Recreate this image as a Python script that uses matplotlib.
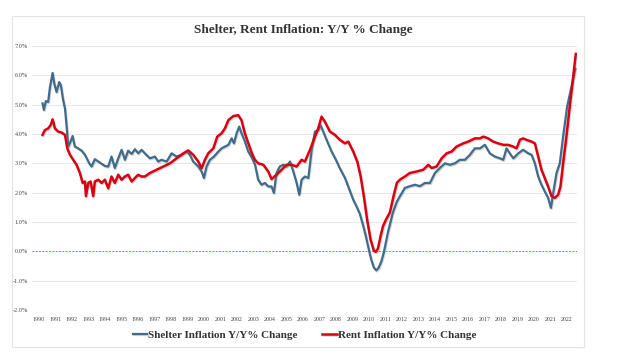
import numpy as np
import matplotlib
matplotlib.use("Agg")
import matplotlib.pyplot as plt
import matplotlib.patheffects as pe
from matplotlib.patches import Rectangle

# ---- data (decimal year, % y/y) ----------------------------------------------
shelter_t = [1990.22, 1990.30, 1990.42, 1990.56, 1990.67, 1990.83, 1990.93, 1991.07, 1991.23, 1991.33,
             1991.47, 1991.58, 1991.68, 1991.78, 1991.92, 1992.04, 1992.18, 1992.38, 1992.59, 1992.79,
             1993.05, 1993.19, 1993.39, 1993.60, 1993.80, 1994.00, 1994.20, 1994.40, 1994.60, 1994.81,
             1995.01, 1995.21, 1995.41, 1995.62, 1995.82, 1996.02, 1996.22, 1996.42, 1996.73, 1997.03,
             1997.23, 1997.43, 1997.74, 1998.04, 1998.34, 1998.65, 1998.95, 1999.15, 1999.35, 1999.66,
             1999.86, 2000.00, 2000.16, 2000.36, 2000.61, 2000.87, 2001.07, 2001.27, 2001.48, 2001.68,
             2001.82, 2001.98, 2002.14, 2002.28, 2002.48, 2002.69, 2002.90, 2003.10, 2003.29, 2003.49,
             2003.70, 2003.90, 2004.10, 2004.24, 2004.40, 2004.60, 2004.81, 2005.01, 2005.22, 2005.42,
             2005.62, 2005.78, 2005.92, 2006.12, 2006.33, 2006.53, 2006.73, 2006.93, 2007.07, 2007.23,
             2007.48, 2007.74, 2008.00, 2008.24, 2008.55, 2008.85, 2009.05, 2009.25, 2009.45, 2009.66,
             2009.80, 2010.00, 2010.15, 2010.30, 2010.45, 2010.60, 2010.75, 2010.90, 2011.15, 2011.45,
             2011.70, 2011.88, 2012.18, 2012.48, 2012.79, 2013.09, 2013.39, 2013.70, 2014.00, 2014.30,
             2014.61, 2014.91, 2015.21, 2015.51, 2015.82, 2016.12, 2016.42, 2016.73, 2017.03, 2017.33,
             2017.63, 2017.94, 2018.14, 2018.34, 2018.54, 2018.75, 2019.05, 2019.35, 2019.66, 2019.86,
             2020.06, 2020.26, 2020.46, 2020.66, 2020.86, 2021.03, 2021.17, 2021.37, 2021.57, 2021.77,
             2022.01, 2022.27, 2022.51]
shelter_v = [5.04, 4.82, 5.12, 5.09, 5.60, 6.08, 5.72, 5.43, 5.77, 5.66,
             5.15, 4.87, 4.25, 3.57, 3.74, 3.93, 3.57, 3.51, 3.43, 3.29,
             3.00, 2.89, 3.14, 3.06, 2.98, 2.91, 2.89, 3.23, 2.84, 3.17,
             3.46, 3.12, 3.43, 3.32, 3.48, 3.34, 3.46, 3.34, 3.17, 3.23,
             3.06, 3.12, 3.06, 3.34, 3.23, 3.29, 3.40, 3.29, 3.06, 2.89,
             2.72, 2.50, 2.89, 3.12, 3.23, 3.40, 3.51, 3.57, 3.63, 3.85,
             3.68, 4.02, 4.25, 4.02, 3.75, 3.40, 3.20, 2.95, 2.44, 2.27,
             2.33, 2.21, 2.21, 1.99, 2.67, 2.89, 2.95, 2.89, 3.06, 2.72,
             2.33, 1.93, 2.44, 2.55, 2.50, 3.46, 4.08, 4.13, 4.30, 4.08,
             3.74, 3.40, 3.12, 2.83, 2.50, 2.05, 1.76, 1.53, 1.28, 0.86,
             0.55, 0.05, -0.30, -0.55, -0.65, -0.55, -0.35, -0.05, 0.64, 1.32,
             1.70, 1.88, 2.16, 2.22, 2.27, 2.22, 2.33, 2.33, 2.67, 2.84,
             3.00, 2.95, 3.00, 3.12, 3.12, 3.29, 3.51, 3.51, 3.63, 3.34,
             3.23, 3.17, 3.12, 3.51, 3.34, 3.17, 3.34, 3.46, 3.34, 3.29,
             3.00, 2.55, 2.27, 2.04, 1.82, 1.48, 1.99, 2.67, 3.00, 3.91,
             4.92, 5.60, 6.22]

rent_t = [1990.22, 1990.36, 1990.56, 1990.71, 1990.83, 1990.97, 1991.17, 1991.37, 1991.58, 1991.72,
          1991.88, 1992.08, 1992.28, 1992.49, 1992.65, 1992.79, 1992.85, 1992.99, 1993.13, 1993.29,
          1993.39, 1993.60, 1993.80, 1994.00, 1994.20, 1994.40, 1994.60, 1994.81, 1995.01, 1995.21,
          1995.41, 1995.62, 1995.82, 1996.02, 1996.22, 1996.42, 1996.73, 1997.13, 1997.54, 1997.94,
          1998.34, 1998.75, 1999.05, 1999.35, 1999.66, 1999.86, 2000.06, 2000.26, 2000.57, 2000.81,
          2001.07, 2001.27, 2001.48, 2001.78, 2002.08, 2002.28, 2002.48, 2002.69, 2002.90, 2003.09,
          2003.29, 2003.60, 2003.90, 2004.10, 2004.40, 2004.71, 2005.01, 2005.32, 2005.62, 2005.92,
          2006.12, 2006.43, 2006.73, 2006.93, 2007.13, 2007.33, 2007.64, 2007.94, 2008.24, 2008.55,
          2008.75, 2009.05, 2009.30, 2009.50, 2009.70, 2009.90, 2010.10, 2010.30, 2010.42, 2010.55,
          2010.70, 2010.85, 2011.05, 2011.27, 2011.50, 2011.70, 2011.90, 2012.18, 2012.48, 2012.89,
          2013.29, 2013.60, 2013.80, 2014.10, 2014.41, 2014.71, 2015.01, 2015.31, 2015.72, 2016.02,
          2016.42, 2016.73, 2016.93, 2017.23, 2017.53, 2017.84, 2018.14, 2018.44, 2018.75, 2018.95,
          2019.15, 2019.35, 2019.55, 2019.86, 2020.06, 2020.26, 2020.46, 2020.66, 2020.86, 2021.07,
          2021.27, 2021.47, 2021.61, 2021.77, 2021.97, 2022.17, 2022.38, 2022.54]
rent_v = [3.97, 4.13, 4.19, 4.30, 4.50, 4.19, 4.08, 4.05, 3.97, 3.51,
          3.29, 3.12, 2.95, 2.66, 2.33, 2.38, 1.88, 2.33, 2.38, 1.88,
          2.38, 2.44, 2.33, 2.44, 2.15, 2.55, 2.33, 2.61, 2.44, 2.55,
          2.61, 2.38, 2.50, 2.61, 2.55, 2.55, 2.67, 2.78, 2.89, 3.00,
          3.17, 3.34, 3.44, 3.29, 3.06, 2.83, 3.12, 3.34, 3.51, 3.91,
          4.02, 4.19, 4.47, 4.61, 4.64, 4.47, 4.02, 3.68, 3.35, 3.12,
          3.00, 2.95, 2.72, 2.46, 2.61, 2.78, 2.95, 2.95, 2.89, 3.12,
          3.06, 3.46, 3.91, 4.19, 4.59, 4.42, 4.08, 3.97, 3.80, 3.68,
          3.74, 3.40, 3.05, 2.55, 1.85, 1.05, 0.40, 0.02, -0.02, 0.10,
          0.50, 0.85, 1.10, 1.32, 1.90, 2.34, 2.45, 2.55, 2.67, 2.72,
          2.78, 2.95, 2.84, 2.89, 3.17, 3.34, 3.40, 3.57, 3.68, 3.74,
          3.85, 3.85, 3.91, 3.85, 3.74, 3.68, 3.63, 3.63, 3.57, 3.51,
          3.80, 3.85, 3.80, 3.74, 3.68, 3.23, 2.78, 2.50, 2.21, 1.88,
          1.82, 1.93, 2.21, 3.00, 3.91, 4.92, 5.94, 6.73]

years = list(range(1990, 2023))
y_ticks = [7, 6, 5, 4, 3, 2, 1, 0, -1, -2]

plt.rcParams["font.family"] = ["Liberation Serif", "DejaVu Serif"]

fig = plt.figure(figsize=(6.41, 3.55), dpi=100)
# light grey frame around the whole chart
fig.patches.append(Rectangle((0.0187, 0.0225), 0.892, 0.9325, transform=fig.transFigure,
                             fill=False, edgecolor="#e4e4e4", linewidth=0.8))

ax = fig.add_axes([0.0499, 0.1268, 0.8502, 0.7437])
shadow = [pe.SimpleLineShadow(offset=(0.6, -0.8), shadow_color="#888888", alpha=0.35), pe.Normal()]
ax.plot(shelter_t, shelter_v, color="#3f6b8c", lw=1.6, label="Shelter Inflation Y/Y% Change",
        path_effects=shadow, zorder=3)
ax.plot(rent_t, rent_v, color="#d90012", lw=1.8, label="Rent Inflation Y/Y% Change",
        path_effects=shadow, zorder=4)
ax.axhline(0, color="#c8602f", lw=0.6, ls=(0, (2, 2)), zorder=2)

ax.set_xlim(1989.58, 2022.61)
ax.set_ylim(-2, 7)
ax.set_yticks(y_ticks)
ax.set_yticklabels([f"{v:.1f}%" for v in y_ticks], fontsize=4.5, color="#444444")
ax.set_xticks(years)
ax.set_xticklabels([str(y) for y in years], fontsize=4.3, color="#444444")
ax.tick_params(length=0, pad=3)
ax.tick_params(axis="x", pad=5)
ax.grid(axis="y", color="#e8e8e8", lw=0.7)
ax.grid(axis="x", visible=False)
for s in ax.spines.values():
    s.set_visible(False)

fig.text(0.473, 0.915, "Shelter, Rent Inflation: Y/Y % Change", ha="center", va="center",
         fontsize=9.5, fontweight="bold", color="#333333")
fig.legend(loc="center", bbox_to_anchor=(0.475, 0.057), ncol=2, frameon=False,
           prop={"size": 8, "weight": "bold"}, handlelength=1.3, handletextpad=0.1,
           columnspacing=2.2, labelcolor="#333333")

fig.savefig("out.png", dpi=100)
